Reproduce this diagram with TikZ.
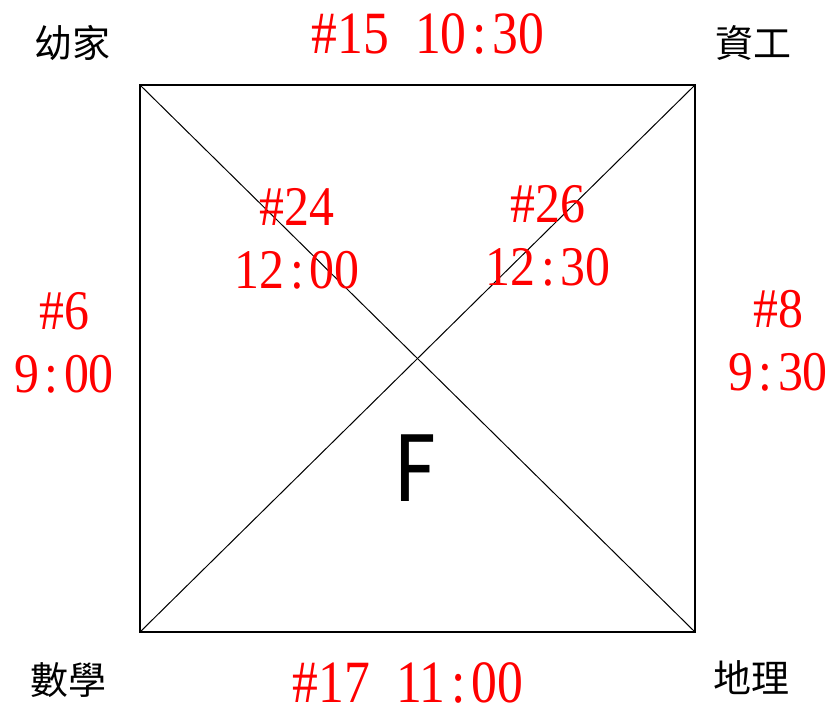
\documentclass[tikz,border=0pt]{standalone}
\usepackage{fontspec}
\newfontfamily\cjk{Noto Sans CJK TC}
\newfontfamily\bigsans{Carlito}
\newfontfamily\redserif{Liberation Serif}
\newcommand\cell[1]{\makebox[0.5em]{#1}}
\tikzset{
  timelabel/.style={text=red, align=center, anchor=base, inner sep=0pt,
    font=\redserif\fontsize{28}{31.5}\selectfont, xscale=0.89},
  widelabel/.style={text=red, anchor=base, inner sep=0pt,
    font=\redserif\fontsize{30}{32}\selectfont, xscale=0.86}
}
\begin{document}
\begin{tikzpicture}[x=0.5pt,y=-0.5pt]
        \useasboundingbox (0,0) rectangle (838,708);

        \coordinate (tl) at (140,85);
        \coordinate (tr) at (695,85);
        \coordinate (br) at (695,632);
        \coordinate (bl) at (140,632);

        \draw[line width=1pt] (tl) -- (tr) -- (br) -- (bl) -- cycle;
        \draw[line width=0.5pt] (tl) -- (br);
        \draw[line width=0.5pt] (tr) -- (bl);

        \begin{scope}[every node/.style={font=\cjk\fontsize{19}{21}\selectfont}]
          \node (youjia) at (72,43)  {幼家};
          \node (zigong) at (753,43) {資工};
          \node (shuxue) at (68,680) {數學};
          \node (dili)   at (751,678) {地理};
        \end{scope}

        \node[widelabel] (top)    at (428,53)  {\#15\cell{}10\cell{:}30};
        \node[widelabel] (bottom) at (408,702) {\#17\cell{}11\cell{:}00};
        \node[timelabel] (left)   at (64,392)  {\#6\\9\cell{:}00};
        \node[timelabel] (right)  at (778,390) {\#8\\9\cell{:}30};
        \node[timelabel] (inl)    at (297,288) {\#24\\12\cell{:}00};
        \node[timelabel] (inr)    at (548,285) {\#26\\12\cell{:}30};

        \node[font=\bigsans\fontsize{52}{56}\selectfont, xscale=0.85] (f) at (416,468) {F};

      \end{tikzpicture}
\end{document}
